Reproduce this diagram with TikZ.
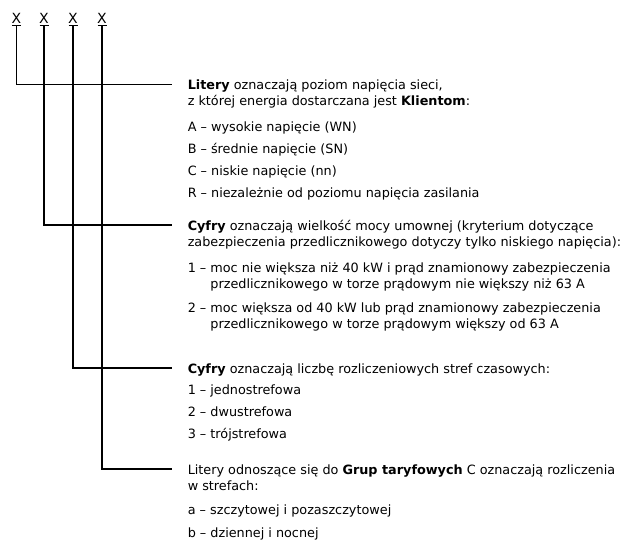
\documentclass[tikz,border=0pt]{standalone}
\usepackage{fontspec}
\setmainfont{DejaVu Sans}
\begin{document}
\begin{tikzpicture}[x=1pt, y=-1pt, line width=1.5pt,
  sym/.style={inner sep=0, anchor=base, font=\fontsize{14}{16}\selectfont},
  txt/.style={inner sep=0, anchor=base west, font=\fontsize{12.8}{16}\selectfont}]
\useasboundingbox (0,0) rectangle (635,541);
% symbole
\node[sym] (x1) at (16.3,23){X};
\node[sym] (x2) at (44,23){X};
\node[sym] (x3) at (73,23){X};
\node[sym] (x4) at (102,23){X};
\coordinate (t1) at (16.3,25.5);
\coordinate (t2) at (44,25.5);
\coordinate (t3) at (73,25.5);
\coordinate (t4) at (102,25.5);
\draw ([xshift=-4.5pt]t1) -- ([xshift=4.5pt]t1);
\draw ([xshift=-4.5pt]t2) -- ([xshift=4.5pt]t2);
\draw ([xshift=-4.5pt]t3) -- ([xshift=4.5pt]t3);
\draw ([xshift=-4.5pt]t4) -- ([xshift=4.5pt]t4);
% pierwsza grupa
\node[txt] (h1) at (187,89.7){\begin{tabular}[t]{@{}l@{}}\textbf{Litery} oznaczają poziom napięcia sieci,\\z której energia dostarczana jest \textbf{Klientom}:\end{tabular}};
\node[txt] (a1) at (187,131.5){A – wysokie napięcie (WN)};
\node[txt] (a2) at (187,153.5){B – średnie napięcie (SN)};
\node[txt] (a3) at (187,175.5){C – niskie napięcie (nn)};
\node[txt] (a4) at (187,197.5){R – niezależnie od poziomu napięcia zasilania};
\coordinate (e1) at (172,84.7);
\draw (t1) |- (e1);
% druga grupa
\node[txt] (h2) at (187,230.5){\begin{tabular}[t]{@{}l@{}}\textbf{Cyfry} oznaczają wielkość mocy umownej (kryterium dotyczące\\zabezpieczenia przedlicznikowego dotyczy tylko niskiego napięcia):\end{tabular}};
\node[txt] (b1) at (187,272){\begin{tabular}[t]{@{}l@{\ }l@{}}1 –&moc nie większa niż 40 kW i prąd znamionowy zabezpieczenia\\&przedlicznikowego w torze prądowym nie większy niż 63 A\end{tabular}};
\node[txt] (b2) at (187,312){\begin{tabular}[t]{@{}l@{\ }l@{}}2 –&moc większa od 40 kW lub prąd znamionowy zabezpieczenia\\&przedlicznikowego w torze prądowym większy od 63 A\end{tabular}};
\coordinate (e2) at (172,225);
\draw (t2) |- (e2);
% trzecia grupa
\node[txt] (h3) at (187,373.5){\textbf{Cyfry} oznaczają liczbę rozliczeniowych stref czasowych:};
\node[txt] (c1) at (187,394){1 – jednostrefowa};
\node[txt] (c2) at (187,416){2 – dwustrefowa};
\node[txt] (c3) at (187,438){3 – trójstrefowa};
\coordinate (e3) at (172,368);
\draw (t3) |- (e3);
% czwarta grupa
\node[txt] (h4) at (187,474.5){\begin{tabular}[t]{@{}l@{}}Litery odnoszące się do \textbf{Grup taryfowych} C oznaczają rozliczenia\\w strefach:\end{tabular}};
\node[txt] (d1) at (187,514){a – szczytowej i pozaszczytowej};
\node[txt] (d2) at (187,537){b – dziennej i nocnej};
\coordinate (e4) at (172,469);
\draw (t4) |- (e4);
\end{tikzpicture}
\end{document}
